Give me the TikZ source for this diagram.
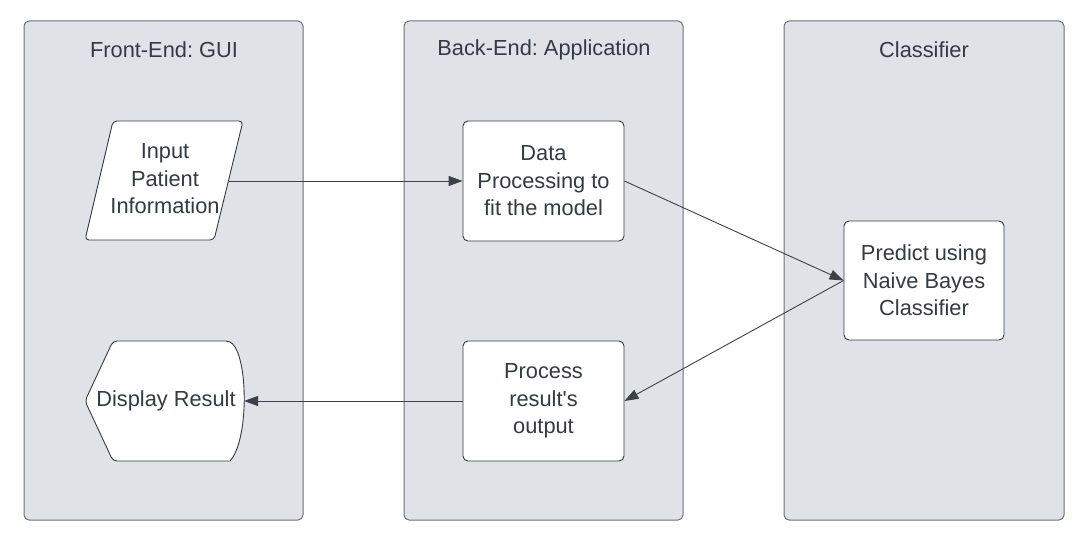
\documentclass[tikz,border=0pt]{standalone}
\usepackage{fontspec}
\setmainfont{Liberation Sans}[Ligatures=TeXOff]
\frenchspacing
\usetikzlibrary{arrows.meta}
\definecolor{lanefill}{HTML}{E0E2E7}
\definecolor{laneline}{HTML}{6B7078}
\definecolor{txt}{HTML}{333A45}
\definecolor{arr}{HTML}{3A414A}
\tikzset{
  lane/.style={draw=laneline, fill=lanefill, line width=1pt, rounded corners=5pt},
  shapebox/.style={draw=txt, fill=white, line width=0.9pt, rounded corners=5pt},
  lbl/.style={text=txt, font=\fontsize{21.8}{27.5}\selectfont, align=center, inner sep=0pt},
  conn/.style={draw=arr, line width=0.9pt, -{Triangle[length=14pt,width=10pt]}}
}
\begin{document}
\begin{tikzpicture}[x=1pt,y=-1pt]
\useasboundingbox (0,0) rectangle (1082,537);
% lanes
\draw[lane] (24,21) rectangle (303,520);
\draw[lane] (404,21) rectangle (683,520);
\draw[lane] (784,21) rectangle (1064,520);
\node[lbl] (t1) at (164,50) {Front-End: GUI};
\node[lbl] (t2) at (544,50) {Back-End: Application};
\node[lbl] (t3) at (924,50) {Classifier};
% input parallelogram
\draw[shapebox, rounded corners=4pt] (113,121) -- (243,121) -- (214,240) -- (85,240) -- cycle;
\node[lbl] (in) at (165,179) {Input\\Patient\\Information};
\coordinate (inR) at (229,181);
% data processing
\node[shapebox, minimum width=161pt, minimum height=120pt, inner sep=0pt] (dp) at (543.5,181) {};
\node[lbl] at (dp) {Data\\Processing to\\fit the model};
% predict
\node[shapebox, minimum width=160pt, minimum height=119pt, inner sep=0pt] (pr) at (924,280.5) {};
\node[lbl] at (pr) {Predict using\\Naive Bayes\\Classifier};
% process
\node[shapebox, minimum width=161pt, minimum height=120pt, inner sep=0pt] (po) at (543.5,401) {};
\node[lbl] at (po) {Process\\result's\\output};
% display
\draw[shapebox, rounded corners=4pt] (113,341) -- (230,341) {[rounded corners=0pt] .. controls (248.5,361) and (248.5,441) .. (230,461)} -- (113,461) -- (85,401) -- cycle;
\node[lbl] (dr) at (166,401) {Display Result};
\coordinate (drR) at (244,401);
% connectors
\draw[conn] (inR) -- (dp.west);
\draw[conn] (dp.east) -- (pr.west);
\draw[conn] (pr.west) -- (po.east);
\draw[conn] (po.west) -- (drR);
\end{tikzpicture}
\end{document}
